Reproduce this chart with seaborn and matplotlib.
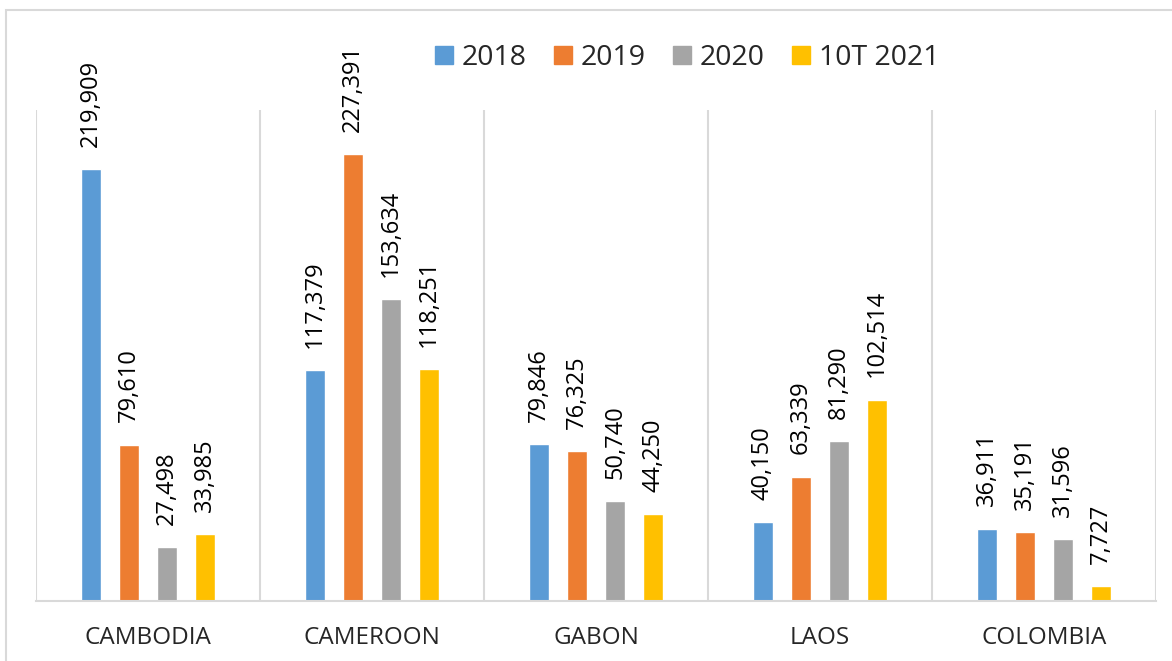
import pandas as pd
import matplotlib
matplotlib.use("Agg")
import matplotlib.pyplot as plt
from matplotlib.patches import Rectangle
import seaborn as sns

# values
countries = ['CAMBODIA', 'CAMEROON', 'GABON', 'LAOS', 'COLOMBIA']
years = ['2018', '2019', '2020', '10T 2021']
v2018 = [219909, 117379, 79846, 40150, 36911]
v2019 = [79610, 227391, 76325, 63339, 35191]
v2020 = [27498, 153634, 50740, 81290, 31596]
v2021 = [33985, 118251, 44250, 102514, 7727]
colors = ['#5B9BD5', '#ED7D31', '#A5A5A5', '#FFC000']


def main():
    df = pd.DataFrame({'country': countries * 4,
                       'year': [y for y in years for _ in countries],
                       'value': v2018 + v2019 + v2020 + v2021})

    sns.set_style('white')
    plt.rcParams['font.family'] = ['Open Sans', 'DejaVu Sans']

    fig = plt.figure(figsize=(11.72, 6.61), dpi=100)
    ax = fig.add_axes([36 / 1172, 60 / 661, 1120 / 1172, 491 / 661])

    sns.barplot(data=df, x='country', y='value', hue='year', palette=colors,
                width=0.68, gap=0.47, ax=ax, legend=False, saturation=1)

    for cont in ax.containers:
        ax.bar_label(cont, labels=[f'{int(b.get_height()):,}' for b in cont],
                     rotation=90, padding=16, fontsize=17, color='black')

    ax.set_ylim(0, 250000)
    ax.set_xlim(-0.5, 4.5)
    ax.set_yticks([])
    ax.set_xlabel('')
    ax.set_ylabel('')
    ax.set_xticks(range(len(countries)))
    ax.set_xticklabels(countries, fontsize=17.5)
    ax.tick_params(axis='x', length=0, pad=18)
    ax.set_xticks([i - 0.5 for i in range(len(countries) + 1)], minor=True)
    ax.tick_params(axis='x', which='minor', length=0)
    ax.grid(axis='x', which='minor', color='#d9d9d9', lw=1.5)
    for s in ['top', 'right', 'left']:
        ax.spines[s].set_visible(False)
    ax.spines['bottom'].set_color('#d9d9d9')
    ax.spines['bottom'].set_linewidth(1.5)

    handles = [Rectangle((0, 0), 1, 1, color=c) for c in colors]
    fig.legend(handles, years, loc='center', bbox_to_anchor=(687 / 1172, 1 - 58 / 661),
               ncol=4, frameon=False, fontsize=20.5, handlelength=0.63, handleheight=0.63,
               handletextpad=0.32, columnspacing=0.95)

    # light outer frame around the chart area
    fig.patches.append(Rectangle((6 / 1172, -0.1), 1.2, 1.1 - 10 / 661, transform=fig.transFigure,
                                 fill=False, edgecolor='#d9d9d9', lw=1.5))

    fig.savefig('out.png', dpi=100)


if __name__ == '__main__':
    main()
